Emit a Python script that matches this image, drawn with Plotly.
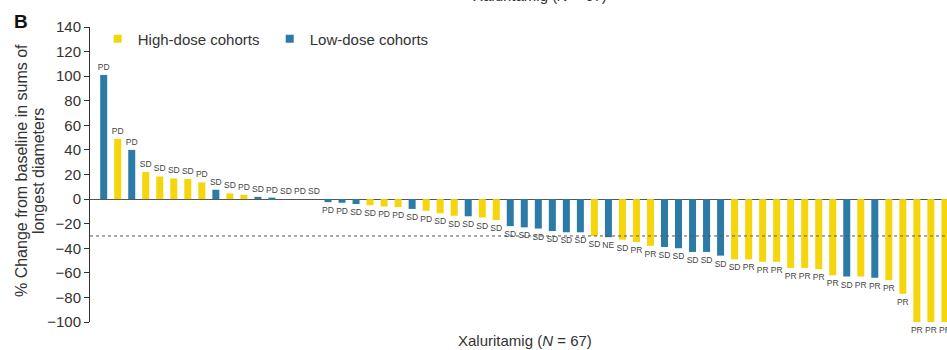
import plotly.graph_objects as go

# ---- data ----
cohort = ["L", "H", "L", "H", "H", "H", "H", "H", "L", "H",
          "H", "L", "L", "H", "H", "H", "L", "L", "L", "H",
          "H", "H", "L", "H", "H", "H", "L", "H", "H", "L",
          "L", "L", "L", "L", "L", "H", "L", "H", "H", "H",
          "L", "L", "L", "L", "L", "H", "H", "H", "H", "H",
          "H", "H", "H", "L", "H", "L", "H", "H", "H", "H",
          "H"]
change = [101, 49, 40, 22, 18.4, 16.8, 16.3, 13.6, 7.6, 4.6,
          3.5, 1.8, 1.2, 0, 0, 0, -2.5, -3, -4, -5,
          -6, -6.5, -8, -9.5, -11.5, -13.6, -14, -15, -17, -22,
          -23, -24, -26, -27, -27, -30, -31, -33, -35, -38,
          -39, -40, -43, -43, -46, -49, -49, -51, -51, -56,
          -56, -57, -62, -63, -63, -64, -66, -77, -100, -100,
          -100]
response = ["PD", "PD", "PD", "SD", "SD", "SD", "SD", "PD", "SD", "SD",
            "PD", "SD", "PD", "SD", "PD", "SD", "PD", "PD", "SD", "SD",
            "PD", "PD", "SD", "PD", "SD", "SD", "SD", "SD", "SD", "SD",
            "SD", "SD", "SD", "SD", "SD", "SD", "NE", "SD", "PR", "PR",
            "SD", "SD", "SD", "SD", "SD", "SD", "PR", "PR", "PR", "PR",
            "PR", "PR", "PR", "SD", "PR", "PR", "PR", "PR", "PR", "PR",
            "PR"]
y_ticks = [140, 120, 100, 80, 60, 40, 20, 0, -20, -40, -60, -80, -100]
groups = {"H": "High-dose cohorts", "L": "Low-dose cohorts"}
colors = {"H": "#F5D60C", "L": "#2C7BA7"}

FONT = "Liberation Sans, Arial, Helvetica, sans-serif"
TXT = "#333333"

fig = go.Figure()
for key in ["H", "L"]:
    idx = [i for i, c in enumerate(cohort) if c == key]
    fig.add_trace(go.Bar(
        x=idx,
        y=[change[i] for i in idx],
        text=[response[i] for i in idx],
        textposition="outside",
        constraintext="none",
        cliponaxis=False,
        textfont=dict(size=8.5, color="#444444", family=FONT),
        marker=dict(color=colors[key], line=dict(width=0)),
        width=0.5,
        showlegend=False,
        hoverinfo="skip",
    ))
    # legend entry with a small square marker
    fig.add_trace(go.Scatter(
        x=[None], y=[None], mode="markers",
        marker=dict(symbol="square", size=8, color=colors[key]),
        name=groups[key], showlegend=True,
    ))

fig.add_hline(y=-30, line=dict(color="#555555", width=1, dash="dot"))

fig.update_layout(
    width=947, height=350,
    margin=dict(l=90, r=0, t=27, b=28),
    paper_bgcolor="white", plot_bgcolor="white",
    barmode="overlay",
    font=dict(family=FONT, color=TXT, size=15),
    legend=dict(orientation="h", x=0.009, xanchor="left", y=0.959, yanchor="middle",
                font=dict(size=15, color=TXT), entrywidth=127, entrywidthmode="pixels",
                bgcolor="rgba(0,0,0,0)", itemclick=False),
    xaxis=dict(range=[-0.977, 60.15], showticklabels=False, showgrid=False,
               zeroline=False, showline=False, ticks=""),
    yaxis=dict(range=[-100, 140], tickvals=y_ticks, showgrid=False,
               zeroline=True, zerolinecolor="#555555", zerolinewidth=1,
               showline=True, linecolor="#333333", linewidth=1,
               ticks="outside", ticklen=5, tickcolor="#333333",
               tickfont=dict(size=15, color=TXT)),
    showlegend=True,
)

# axis titles (two rotated lines) and panel letter
for line_text, cx in [("% Change from baseline in sums of", 21),
                      ("longest diameters", 38)]:
    fig.add_annotation(text=line_text, xref="paper", yref="paper",
                       x=(cx - 90) / 857, y=(322 - 171) / 295,
                       xanchor="center", yanchor="middle", textangle=-90,
                       showarrow=False, font=dict(size=16, color=TXT))
fig.add_annotation(text="Xaluritamig (<i>N</i> = 67)",
                   xref="paper", yref="paper", x=(524.5 - 90) / 857, y=(322 - 340) / 295,
                   xanchor="center", yanchor="middle", showarrow=False,
                   font=dict(size=15, color=TXT))
fig.add_annotation(text="Xaluritamig (<i>N</i> = 67)",
                   xref="paper", yref="paper", x=(540 - 90) / 857, y=1 + (27 - 6) / 295,
                   xanchor="center", yanchor="bottom", showarrow=False,
                   font=dict(size=15, color=TXT))
fig.add_annotation(text="<b>B</b>",
                   xref="paper", yref="paper", x=(20.5 - 90) / 857, y=(322 - 21) / 295,
                   xanchor="center", yanchor="middle", showarrow=False,
                   font=dict(size=19, color="#111111"))

fig.write_html("out.html", config={"displayModeBar": False},
               post_script="document.body.style.margin='0px';")
